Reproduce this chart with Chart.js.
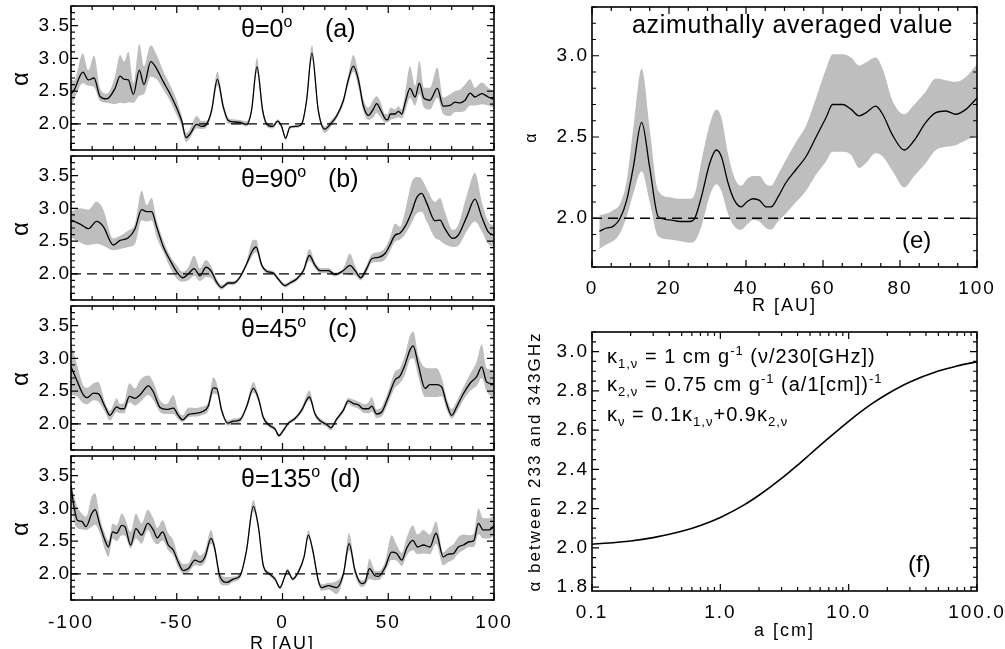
<!DOCTYPE html>
<html>
<head>
<meta charset="utf-8">
<script src="https://cdn.jsdelivr.net/npm/chart.js@4.4.1/dist/chart.umd.min.js"></script>
<style>
  body { margin: 0; background: #fff; }
  #fig { position: relative; width: 1005px; height: 649px; overflow: hidden;
         font-family: 'Liberation Sans', Arial, Helvetica, sans-serif; color: #000; }
  #fig canvas { position: absolute; left: 0; top: 0; }
  .lbl { position: absolute; white-space: nowrap; line-height: 1; z-index: 5; }
  .up { position: relative; line-height: 0; }
  .dn { position: relative; line-height: 0; }
</style>
</head>
<body>
<div id="fig">
  <canvas id="pa" width="1005" height="649"></canvas>
  <canvas id="pb" width="1005" height="649"></canvas>
  <canvas id="pc" width="1005" height="649"></canvas>
  <canvas id="pd" width="1005" height="649"></canvas>
  <canvas id="pe" width="1005" height="649"></canvas>
  <canvas id="pf" width="1005" height="649"></canvas>

  <div class="lbl" style="left:241px;top:15.5px;font-size:25px">θ=0<span class="up" style="font-size:16px;top:-10px">o</span></div>
  <div class="lbl" style="left:325px;top:15.5px;font-size:25px">(a)</div>
  <div class="lbl" style="left:241px;top:165.5px;font-size:25px">θ=90<span class="up" style="font-size:16px;top:-10px">o</span></div>
  <div class="lbl" style="left:328px;top:165.5px;font-size:25px">(b)</div>
  <div class="lbl" style="left:241px;top:315.5px;font-size:25px">θ=45<span class="up" style="font-size:16px;top:-10px">o</span></div>
  <div class="lbl" style="left:328px;top:315.5px;font-size:25px">(c)</div>
  <div class="lbl" style="left:241px;top:465.5px;font-size:25px">θ=135<span class="up" style="font-size:16px;top:-10px">o</span></div>
  <div class="lbl" style="left:330px;top:465.5px;font-size:25px">(d)</div>

  <div class="lbl" style="left:632px;top:11.8px;font-size:25px;letter-spacing:0.7px">azimuthally averaged value</div>
  <div class="lbl" style="left:902px;top:227.7px;font-size:24px">(e)</div>
  <div class="lbl" style="left:908px;top:551.7px;font-size:24px">(f)</div>

  <div class="lbl" style="left:607px;top:346.1px;font-size:20px;letter-spacing:1px">κ<span class="dn" style="font-size:13px;top:5px">1,ν</span> = 1 cm g<span class="up" style="font-size:13px;top:-8px">-1</span> (ν/230[GHz])</div>
  <div class="lbl" style="left:607px;top:374.1px;font-size:20px;letter-spacing:1px">κ<span class="dn" style="font-size:13px;top:5px">2,ν</span> = 0.75 cm g<span class="up" style="font-size:13px;top:-8px">-1</span> (a/1[cm])<span class="up" style="font-size:13px;top:-8px">-1</span></div>
  <div class="lbl" style="left:607px;top:404.1px;font-size:20px;letter-spacing:1px">κ<span class="dn" style="font-size:13px;top:5px">ν</span> = 0.1κ<span class="dn" style="font-size:13px;top:5px">1,ν</span>+0.9κ<span class="dn" style="font-size:13px;top:5px">2,ν</span></div>
</div>

<script>
// ---- data ----
const REF_ALPHA = 2.0;

// (a) theta = 0
const rA = [-100,-98.6,-94.4,-91.8,-89.1,-86.3,-83.1,-79.2,-76.8,-74.9,-72.9,-70.5,-67.7,-65.5,-62.3,-59.5,-56.3,-53.2,-50.0,-47.7,-45.6,-43.8,-40.6,-38.2,-35.8,-33.5,-30.8,-28.0,-25.6,-23.2,-20.1,-17.0,-14.6,-12.1,-9.4,-7.5,-4.6,-2.3,-0.4,1.5,3.5,6.7,9.1,11.4,13.9,16.9,20.0,22.5,25.6,28.8,31.1,33.5,35.9,38.2,40.6,43.0,44.5,46.4,48.5,49.6,51.1,53.2,54.8,56.4,57.9,60.3,62.7,64.7,66.9,69.7,73.2,76.0,79.2,81.6,83.9,86.3,88.7,91.0,94.2,97.3,100];
const aMid = [2.46,2.51,2.79,2.67,2.70,2.42,2.38,2.54,2.73,2.68,2.67,2.45,2.82,2.60,2.95,2.84,2.64,2.46,2.24,2.05,1.79,1.84,1.99,1.96,2.00,2.21,2.68,2.26,2.05,2.03,2.02,1.99,2.21,2.87,2.21,2.00,1.96,2.04,1.96,1.78,1.95,1.96,2.00,2.36,3.08,2.21,1.92,1.99,2.12,2.36,2.67,2.88,2.67,2.28,2.13,2.23,2.31,2.21,2.08,2.06,2.15,2.15,2.19,2.15,2.31,2.54,2.41,2.62,2.39,2.36,2.54,2.27,2.28,2.33,2.32,2.36,2.47,2.41,2.46,2.41,2.37];
const aHi = [2.69,2.66,3.08,2.82,3.04,2.55,2.46,2.72,3.05,2.95,3.10,2.62,3.22,2.88,3.20,3.05,2.80,2.60,2.36,2.13,1.86,1.92,2.12,2.04,2.05,2.26,2.80,2.32,2.09,2.07,2.06,2.04,2.26,3.00,2.27,2.03,1.99,2.07,1.99,1.81,1.97,1.98,2.03,2.42,3.20,2.27,1.96,2.04,2.16,2.40,2.75,3.05,2.78,2.38,2.25,2.37,2.42,2.33,2.15,2.15,2.25,2.22,2.27,2.22,2.45,2.88,2.58,2.96,2.55,2.55,2.86,2.40,2.45,2.50,2.52,2.60,2.68,2.55,2.63,2.55,2.50];
const aLo = [2.26,2.36,2.62,2.58,2.56,2.35,2.32,2.30,2.32,2.31,2.33,2.32,2.43,2.45,2.72,2.68,2.52,2.35,2.13,1.96,1.72,1.78,1.93,1.92,1.95,2.15,2.58,2.20,2.00,1.99,1.99,1.96,2.16,2.78,2.15,1.96,1.93,2.01,1.93,1.75,1.92,1.94,1.97,2.30,2.98,2.15,1.86,1.94,2.08,2.30,2.60,2.80,2.55,2.20,2.06,2.10,2.17,2.10,2.02,2.02,2.06,2.08,2.10,2.08,2.18,2.40,2.28,2.45,2.25,2.22,2.40,2.15,2.12,2.18,2.18,2.20,2.28,2.28,2.30,2.28,2.25];

// (b) theta = 90
const rB = [-100,-95.7,-91.8,-87.9,-84.7,-80.0,-76.8,-72.9,-69.7,-66.6,-64.2,-61.9,-59.5,-56.3,-53.2,-50.0,-47.2,-44.5,-41.8,-39.0,-36.2,-33.5,-31.1,-28.8,-25.6,-23.2,-20.1,-17.0,-14.1,-12.5,-9.8,-7.5,-4.3,-2.0,1.2,3.5,6.7,9.9,12.7,15.4,17.7,21.7,24.8,28.8,31.9,34.3,37.0,39.8,42.2,45.3,48.5,50.8,53.2,55.5,57.9,61.1,63.4,65.8,68.2,72.1,74.5,76.8,80.5,83.1,87.1,91.0,94.2,97.3,100];
const bMid = [2.82,2.76,2.69,2.80,2.72,2.44,2.51,2.55,2.69,2.98,2.95,2.95,2.72,2.41,2.21,2.03,1.94,2.00,2.08,1.97,2.10,2.03,1.87,1.79,1.86,1.86,1.95,2.15,2.36,2.41,2.13,2.04,2.01,1.92,1.82,1.86,1.92,2.05,2.28,2.13,2.05,2.05,1.99,2.05,2.13,2.05,1.94,2.08,2.23,2.25,2.31,2.44,2.59,2.62,2.72,2.95,3.16,3.23,3.08,2.81,2.82,2.69,2.54,2.59,2.87,3.14,2.87,2.64,2.59];
const bHi = [2.95,3.00,2.98,3.10,2.98,2.54,2.58,2.66,2.77,3.27,3.05,3.16,2.82,2.51,2.28,2.13,2.03,2.10,2.28,2.08,2.21,2.10,1.92,1.83,1.89,1.89,1.98,2.19,2.51,2.52,2.17,2.07,2.04,1.95,1.85,1.89,1.95,2.09,2.38,2.18,2.09,2.09,2.02,2.09,2.31,2.12,1.98,2.14,2.30,2.33,2.40,2.55,2.77,2.72,2.95,3.40,3.48,3.45,3.30,3.10,3.16,2.95,2.67,2.75,3.20,3.54,3.10,2.80,2.74];
const bLo = [2.56,2.48,2.44,2.46,2.43,2.36,2.38,2.41,2.46,2.82,2.80,2.82,2.56,2.33,2.10,1.93,1.88,1.90,1.97,1.89,1.95,1.93,1.82,1.76,1.83,1.83,1.92,2.11,2.28,2.33,2.09,2.01,1.98,1.89,1.79,1.83,1.89,2.01,2.20,2.08,2.01,2.01,1.96,2.01,1.98,1.98,1.90,2.02,2.17,2.18,2.22,2.35,2.49,2.52,2.60,2.78,2.92,2.95,2.80,2.55,2.51,2.45,2.41,2.43,2.65,2.80,2.65,2.45,2.41];

// (c) theta = 45
const rC = [-100,-97.3,-94.1,-92.3,-89.4,-87.1,-83.9,-81.6,-78.4,-76.8,-74.9,-72.4,-69.7,-67.4,-63.4,-61.1,-57.9,-54.8,-51.6,-49.3,-47.2,-44.5,-41.4,-38.2,-35.1,-32.7,-31.1,-28.8,-25.9,-23.2,-20.1,-17.0,-13.8,-11.4,-9.1,-5.9,-3.5,-1.7,0.4,2.8,5.9,9.1,12.7,15.4,17.7,20.9,22.9,25.6,28.8,31.1,33.5,35.9,38.2,40.6,42.2,44.5,46.9,50.0,53.2,55.5,57.9,60.3,61.8,64.2,67.4,69.7,72.9,75.3,77.6,80.0,82.4,85.5,88.7,91.8,94.2,96.5,100];
const cMid = [2.87,2.67,2.44,2.40,2.47,2.46,2.26,2.13,2.26,2.23,2.23,2.42,2.39,2.44,2.58,2.49,2.25,2.22,2.24,2.13,2.06,2.14,2.16,2.18,2.27,2.55,2.54,2.21,2.01,2.04,2.06,2.26,2.54,2.39,2.10,1.97,1.92,1.82,1.90,2.01,2.08,2.21,2.41,2.15,2.05,1.99,1.94,2.07,2.21,2.35,2.31,2.29,2.23,2.23,2.27,2.15,2.18,2.41,2.67,2.73,2.90,3.13,3.19,2.90,2.54,2.60,2.60,2.56,2.31,2.13,2.26,2.46,2.62,2.72,2.87,2.64,2.61];
const cHi = [3.23,2.92,2.58,2.55,2.62,2.64,2.33,2.20,2.39,2.30,2.32,2.62,2.54,2.67,2.74,2.64,2.36,2.30,2.44,2.20,2.13,2.25,2.24,2.26,2.33,2.71,2.62,2.26,2.05,2.08,2.10,2.30,2.64,2.44,2.14,2.00,1.95,1.85,1.93,2.04,2.11,2.25,2.51,2.19,2.09,2.02,1.97,2.10,2.25,2.40,2.37,2.34,2.30,2.32,2.41,2.22,2.26,2.50,2.80,2.85,3.05,3.35,3.41,3.05,2.86,2.85,2.85,2.70,2.40,2.23,2.35,2.56,2.76,2.95,3.21,2.85,2.83];
const cLo = [2.44,2.42,2.31,2.30,2.36,2.34,2.18,2.05,2.18,2.16,2.16,2.33,2.28,2.33,2.44,2.36,2.18,2.15,2.15,2.07,2.03,2.10,2.11,2.13,2.20,2.46,2.45,2.16,1.97,2.00,2.02,2.22,2.48,2.34,2.06,1.94,1.89,1.79,1.87,1.98,2.05,2.17,2.36,2.11,2.01,1.95,1.90,2.03,2.17,2.30,2.26,2.23,2.17,2.16,2.19,2.09,2.11,2.32,2.55,2.62,2.75,2.98,3.00,2.72,2.41,2.41,2.41,2.42,2.22,2.08,2.18,2.36,2.50,2.58,2.70,2.50,2.36];

// (d) theta = 135
const rD = [-100,-98.6,-97.0,-94.9,-92.9,-90.2,-88.6,-86.3,-83.9,-82.3,-80.3,-78.4,-76.0,-74.5,-71.8,-69.3,-66.6,-63.7,-61.1,-59.2,-56.7,-54.0,-51.6,-49.3,-46.9,-44.5,-41.4,-39.0,-36.6,-33.8,-32.2,-29.5,-26.4,-23.2,-20.1,-17.0,-13.8,-11.4,-9.1,-6.2,-3.5,-1.2,1.2,2.3,4.8,7.5,10.2,12.2,14.3,16.9,18.5,21.7,25.6,28.8,31.5,34.3,37.4,39.0,41.1,43.7,45.3,48.5,51.6,54.0,56.4,58.7,61.6,63.9,66.6,69.7,72.6,76.0,78.4,80.8,83.1,85.5,88.3,90.5,92.6,94.9,97.8,100];
const dMid = [3.34,3.03,2.82,2.80,2.72,2.92,2.98,2.74,2.51,2.41,2.64,2.62,2.74,2.72,2.44,2.69,2.59,2.77,2.67,2.55,2.64,2.44,2.36,2.18,2.05,2.08,2.21,2.18,2.26,2.54,2.41,1.95,1.87,1.92,1.97,2.36,3.03,2.72,2.13,2.00,1.92,1.79,1.97,2.05,1.92,2.03,2.26,2.59,2.36,1.90,1.79,1.82,1.79,2.00,2.46,2.05,1.85,1.87,2.08,1.97,1.96,2.10,2.33,2.31,2.21,2.39,2.51,2.41,2.44,2.41,2.62,2.26,2.30,2.31,2.41,2.44,2.49,2.51,2.77,2.67,2.67,2.74];
const dHi = [3.40,3.20,3.02,2.92,2.87,3.18,3.23,2.85,2.61,2.51,2.77,2.74,2.92,2.85,2.64,2.92,2.77,2.98,2.85,2.70,2.82,2.62,2.51,2.26,2.15,2.16,2.36,2.28,2.36,2.67,2.48,2.00,1.95,1.96,2.01,2.40,3.13,2.77,2.17,2.03,1.95,1.82,2.00,2.08,1.95,2.06,2.30,2.67,2.40,1.94,1.84,1.86,1.89,2.06,2.62,2.10,1.90,1.92,2.23,2.05,2.04,2.18,2.59,2.44,2.32,2.55,2.74,2.60,2.67,2.60,2.80,2.33,2.40,2.45,2.56,2.60,2.59,2.62,3.00,2.85,2.85,2.90];
const dLo = [3.12,2.80,2.70,2.68,2.67,2.72,2.75,2.62,2.36,2.26,2.54,2.50,2.59,2.58,2.39,2.54,2.46,2.67,2.51,2.45,2.51,2.36,2.28,2.10,2.00,2.02,2.13,2.12,2.18,2.46,2.35,1.85,1.82,1.88,1.93,2.32,2.95,2.67,2.09,1.97,1.89,1.76,1.94,2.02,1.89,2.00,2.22,2.54,2.31,1.85,1.74,1.76,1.69,1.93,2.36,1.98,1.80,1.82,1.92,1.90,1.90,2.03,2.21,2.20,2.12,2.28,2.36,2.30,2.31,2.30,2.46,2.13,2.18,2.22,2.31,2.36,2.41,2.41,2.61,2.54,2.54,2.59];

// (e) azimuthal average
const rE = [1.9,3.8,5.5,7.3,9.0,10.7,12.9,15.0,17.2,20.2,22.8,25.4,26.7,28.4,30.6,32.3,33.6,35.3,37.0,38.8,40.2,41.8,43.5,45.2,46.5,48.3,50.4,53.0,55.6,58.2,60.8,62.5,65.1,67.3,69.4,71.2,73.7,75.5,78.1,81.1,83.7,86.7,89.3,91.9,94.5,97.1,100];
const eMid = [1.92,1.94,1.95,2.00,2.11,2.31,2.59,2.31,2.01,1.99,1.98,1.98,2.00,2.13,2.34,2.42,2.38,2.22,2.11,2.07,2.10,2.12,2.11,2.07,2.07,2.13,2.22,2.30,2.38,2.50,2.62,2.70,2.70,2.67,2.63,2.65,2.69,2.64,2.51,2.42,2.48,2.59,2.65,2.66,2.64,2.67,2.74];
const eHi = [2.02,2.03,2.05,2.09,2.23,2.55,2.92,2.55,2.17,2.13,2.12,2.12,2.15,2.35,2.58,2.67,2.62,2.40,2.25,2.20,2.24,2.26,2.26,2.21,2.20,2.27,2.36,2.47,2.57,2.74,2.92,3.01,3.01,2.99,2.94,2.96,2.99,2.92,2.72,2.64,2.70,2.78,2.86,2.85,2.84,2.87,2.95];
const eLo = [1.81,1.84,1.86,1.91,2.01,2.15,2.29,2.10,1.89,1.87,1.86,1.85,1.86,1.95,2.14,2.21,2.17,2.03,1.95,1.93,1.96,1.99,1.98,1.94,1.93,1.98,2.03,2.10,2.17,2.27,2.35,2.41,2.41,2.39,2.31,2.34,2.40,2.38,2.29,2.19,2.26,2.34,2.42,2.44,2.45,2.48,2.51];

// (f) alpha vs grain size
const aSize = [0.1,0.2,0.3,0.5,0.7,1,1.5,2,3,4,5,7,10,15,20,30,50,70,100];
const fAlpha = [2.018,2.035,2.052,2.084,2.114,2.155,2.215,2.268,2.354,2.422,2.477,2.560,2.645,2.732,2.784,2.845,2.901,2.927,2.948];

// tick labels
const rTicks = [-100, -50, 0, 50, 100];
const alphaTicks = [2.0, 2.5, 3.0, 3.5];
const eXTicks = [0, 20, 40, 60, 80, 100];
const eYTicks = [2.0, 2.5, 3.0];
const fXTicks = [0.1, 1, 10, 100];
const fYTicks = [1.8, 2.0, 2.2, 2.4, 2.6, 2.8, 3.0];

// ---- drawing ----
const W = 1005, H = 649;
const BAND = '#bebebe';
const TICK_FONT = 19;
Chart.defaults.font.family = "'Liberation Sans', Arial, Helvetica, sans-serif";
Chart.defaults.color = '#000';

const pts = (xs, ys) => xs.map((x, i) => ({ x, y: ys[i] }));

function linTicks(min, max, minor, major) {
  const out = [];
  const n0 = Math.ceil(min / minor - 1e-6), n1 = Math.floor(max / minor + 1e-6);
  for (let n = n0; n <= n1; n++) {
    const v = +(n * minor).toFixed(6);
    const q = v / major;
    out.push([v, Math.abs(q - Math.round(q)) < 1e-6 ? 7 : 4]);
  }
  return out;
}
function logTicks(min, max) {
  const out = [];
  for (let d = min; d <= max * 1.0001; d *= 10)
    for (let k = 1; k < 10; k++) if (d * k <= max * 1.0001) out.push([d * k, k === 1 ? 7 : 4]);
  return out;
}

const marks = {};
const frameTicks = {
  id: 'frameTicks',
  beforeDraw(chart) { chart.ctx.letterSpacing = '2px'; },
  afterDraw(chart) {
    const m = marks[chart.canvas.id];
    const { ctx, chartArea: a } = chart;
    const x = chart.scales.x, y = chart.scales.y;
    ctx.save();
    ctx.strokeStyle = '#000';
    ctx.lineWidth = 1.2;
    ctx.beginPath();
    m.x.forEach(([v, len]) => {
      const p = x.getPixelForValue(v);
      ctx.moveTo(p, a.bottom); ctx.lineTo(p, a.bottom - len);
      ctx.moveTo(p, a.top); ctx.lineTo(p, a.top + len);
    });
    m.y.forEach(([v, len]) => {
      const p = y.getPixelForValue(v);
      ctx.moveTo(a.left, p); ctx.lineTo(a.left + len, p);
      ctx.moveTo(a.right, p); ctx.lineTo(a.right - len, p);
    });
    ctx.stroke();
    ctx.lineWidth = 1.6;
    ctx.strokeRect(a.left, a.top, a.right - a.left, a.bottom - a.top);
    ctx.restore();
  }
};

function yAxis(min, max, ticks, width, title, titleSize, titlePad, labelPad) {
  return {
    type: 'linear', position: 'left', min, max,
    grid: { display: false, drawTicks: false }, border: { display: false },
    afterBuildTicks: s => { s.ticks = ticks.map(v => ({ value: v })); },
    afterFit: s => { s.width = width; s.paddingTop = 0; s.paddingBottom = 0; },
    ticks: { padding: labelPad, autoSkip: false, font: { size: TICK_FONT }, callback: v => v.toFixed(1) },
    title: { display: true, text: title, font: { size: titleSize }, padding: { top: titlePad, bottom: 0 } }
  };
}
function xAxis(type, min, max, ticks, height, title, labelPad, titleBottom, fmt) {
  return {
    type, position: 'bottom', min, max,
    grid: { display: false, drawTicks: false }, border: { display: false },
    afterBuildTicks: s => { s.ticks = ticks.map(v => ({ value: v })); },
    afterFit: s => { s.height = height; s.paddingLeft = 0; s.paddingRight = 0; },
    ticks: { padding: labelPad, autoSkip: false, maxRotation: 0, font: { size: TICK_FONT }, callback: fmt },
    title: { display: true, text: title, font: { size: 18 }, padding: { top: 0, bottom: titleBottom } }
  };
}

function bandSets(r, mid, hi, lo, x0, x1) {
  return [
    { data: pts(r, mid), borderColor: '#000', borderWidth: 1.3, pointRadius: 0,
      cubicInterpolationMode: 'monotone', fill: false, order: 0 },
    { data: [{ x: x0, y: REF_ALPHA }, { x: x1, y: REF_ALPHA }], borderColor: '#000', borderWidth: 1.3,
      borderDash: [10, 6], pointRadius: 0, fill: false, order: 1 },
    { data: pts(r, hi), borderColor: 'rgba(0,0,0,0)', backgroundColor: BAND, pointRadius: 0,
      cubicInterpolationMode: 'monotone', fill: '+1', order: 2 },
    { data: pts(r, lo), borderColor: 'rgba(0,0,0,0)', pointRadius: 0,
      cubicInterpolationMode: 'monotone', fill: false, order: 3 }
  ];
}

function panel(id, box, yw, xh, scales, datasets, mk) {
  marks[id] = mk;
  return new Chart(document.getElementById(id), {
    type: 'line',
    data: { datasets },
    options: {
      responsive: false, animation: false, events: [],
      layout: { autoPadding: false,
        padding: { left: box.l - yw, top: box.t, right: W - box.r, bottom: H - box.b - xh } },
      scales,
      plugins: { legend: { display: false }, tooltip: { enabled: false } }
    },
    plugins: [frameTicks]
  });
}

const leftMarks = { x: linTicks(-100, 100, 10, 50), y: linTicks(1.6, 3.8, 0.1, 0.5) };
const hiddenR = { type: 'linear', min: -100, max: 100, display: false };

const leftPanels = [
  ['pa', { l: 71, t: 6, r: 494, b: 150 }, rA, aMid, aHi, aLo],
  ['pb', { l: 71, t: 156, r: 494, b: 300 }, rB, bMid, bHi, bLo],
  ['pc', { l: 71, t: 306, r: 494, b: 450 }, rC, cMid, cHi, cLo],
  ['pd', { l: 71, t: 456, r: 494, b: 600 }, rD, dMid, dHi, dLo]
];
leftPanels.forEach(([id, box, r, mid, hi, lo], i) => {
  const last = i === leftPanels.length - 1;
  panel(id, box, 71, last ? 49 : 0, {
    x: last ? xAxis('linear', -100, 100, rTicks, 49, 'R [AU]', 11.5, -6, v => String(v)) : hiddenR,
    y: yAxis(1.6, 3.8, alphaTicks, 71, 'α', 24, 7, 0)
  }, bandSets(r, mid, hi, lo, -100, 100), leftMarks);
});

panel('pe', { l: 592, t: 7, r: 977, b: 267 }, 72, 46, {
  x: xAxis('linear', 0, 100, eXTicks, 46, 'R [AU]', 10.5, -4, v => String(v)),
  y: yAxis(1.7, 3.3, eYTicks, 72, 'α', 16, 2.4, 3)
}, bandSets(rE, eMid, eHi, eLo, 0, 100), { x: linTicks(0, 100, 5, 20), y: linTicks(1.7, 3.3, 0.1, 0.5) });

panel('pf', { l: 592, t: 332, r: 977, b: 591 }, 72, 51, {
  x: xAxis('logarithmic', 0.1, 100, fXTicks, 51, 'a [cm]', 10.5, 0, v => Number(v).toFixed(1)),
  y: yAxis(1.78, 3.10, fYTicks, 72, 'α between 233 and 343GHz', 17, 4.8, 3)
}, [
  { data: pts(aSize, fAlpha), borderColor: '#000', borderWidth: 1.6, pointRadius: 0,
    cubicInterpolationMode: 'monotone', fill: false }
], { x: logTicks(0.1, 100), y: linTicks(1.78, 3.10, 0.05, 0.2) });
</script>
</body>
</html>
